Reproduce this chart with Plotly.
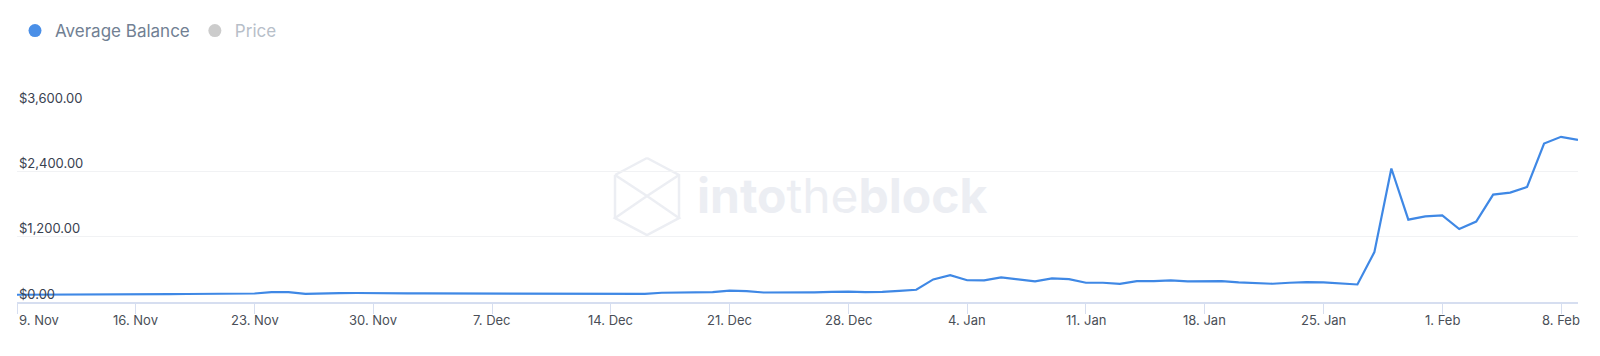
import pandas as pd
import plotly.graph_objects as go

# ---- data ----
start_date = "2020-11-09"
avg_balance = [
    133, 133, 133, 133, 135, 137, 139, 141, 143, 145, 147, 149, 151, 151,
    156, 180, 180, 151,
    162, 163, 165, 167, 165, 160, 158, 158, 160, 160, 158, 155, 152, 150, 148, 150, 150, 152, 155,
    150, 170, 172, 175, 180, 210, 200, 175, 172, 180, 178, 185, 190, 180, 185, 205, 225, 415, 493, 400,
    396, 451, 420, 378, 433, 420, 354, 354, 335, 383, 383, 396, 378, 378, 383, 359, 346, 335, 354, 365,
    359, 340, 322, 917, 2453, 1514, 1575, 1593, 1341, 1477, 1974, 2011, 2114, 2913, 3035, 2980,
]
dates = pd.date_range(start_date, periods=len(avg_balance), freq="D")

x_tick_labels = ["9. Nov", "16. Nov", "23. Nov", "30. Nov", "7. Dec", "14. Dec", "21. Dec",
                 "28. Dec", "4. Jan", "11. Jan", "18. Jan", "25. Jan", "1. Feb", "8. Feb"]
x_tick_dates = pd.date_range(start_date, periods=len(x_tick_labels), freq="7D")
y_tick_vals = [0, 1200, 2400, 3600]
y_tick_labels = ["$0.00", "$1,200.00", "$2,400.00", "$3,600.00"]

# ---- styling ----
W, H = 1600, 356
ML, MR, MT, MB = 17, 22, 106, 54
PW, PH = W - ML - MR, H - MT - MB
LINE_BLUE = "#3f88e5"
FONT = "Inter"


def px2paper(px, py):
    return (px - ML) / PW, (H - MB - py) / PH


fig = go.Figure()

fig.add_trace(go.Scatter(
    x=dates, y=avg_balance, mode="lines",
    line=dict(color=LINE_BLUE, width=2.2),
    showlegend=False, name="Average Balance",
))
# legend entries (circle symbols)
fig.add_trace(go.Scatter(x=[None], y=[None], mode="markers", name="Average Balance",
                         marker=dict(color="#4a8fe7", size=13, symbol="circle")))
fig.add_trace(go.Scatter(x=[None], y=[None], mode="markers", name="Price", visible="legendonly",
                         marker=dict(color="#9a9a9a", size=13, symbol="circle")))

annotations = []
# x tick labels as annotations (first label left-aligned like the original)
for i, (d, lab) in enumerate(zip(x_tick_dates, x_tick_labels)):
    annotations.append(dict(
        x=d, xref="x", y=px2paper(0, 320)[1], yref="paper",
        text=lab, showarrow=False, xanchor="left" if i == 0 else "center", yanchor="middle",
        font=dict(family=FONT, size=13, color="#4a4f57"),
    ))
# y tick labels, left-aligned just above their grid lines
for v, lab in zip(y_tick_vals, y_tick_labels):
    annotations.append(dict(
        x=px2paper(17.3, 0)[0], xref="paper", y=v, yref="y",
        text=lab, showarrow=False, xanchor="left", yanchor="middle", yshift=8.5,
        font=dict(family=FONT, size=13, color="#394150"),
    ))

# watermark
wx, wy = px2paper(842, 195)
annotations.append(dict(
    x=wx, y=wy, xref="paper", yref="paper", showarrow=False,
    text="<b>into</b>the<b>block</b>",
    font=dict(family=FONT, size=48, color="#eceef3"),
    xanchor="center", yanchor="middle",
))

# watermark icon (cube outline)
icon_pts = {
    "T": (647, 158), "UR": (679, 175), "LR": (679, 218),
    "B": (647, 235), "LL": (615, 218), "UL": (615, 175),
    "C": (647, 196), "MR": (679, 196), "ML": (615, 196),
}


def path_of(names):
    s = ""
    for i, n in enumerate(names):
        x, y = px2paper(*icon_pts[n])
        s += ("M" if i == 0 else "L") + f"{x:.5f},{y:.5f} "
    return s


shapes = []
for names in [
    ["T", "UR", "MR"],
    ["UL", "T"],
    ["UL", "LL"],
    ["UL", "C", "LR", "B", "LL", "C", "UR"],
    ["LR", "MR"],
]:
    shapes.append(dict(type="path", path=path_of(names), xref="paper", yref="paper",
                       line=dict(color="#eceef3", width=2.5), layer="below"))

fig.update_layout(
    width=W, height=H,
    margin=dict(l=ML, r=MR, t=MT, b=MB, pad=0, autoexpand=False),
    paper_bgcolor="white", plot_bgcolor="white",
    font=dict(family=FONT, color="#394150"),
    showlegend=True,
    legend=dict(
        orientation="h", x=15 / W, y=1 - 31 / H, xref="container", yref="container",
        xanchor="left", yanchor="middle",
        font=dict(family=FONT, size=17, color="#718093"),
        bgcolor="rgba(0,0,0,0)", itemclick=False,
    ),
    xaxis=dict(
        type="date", range=[dates[0], dates[-1]],
        tickvals=x_tick_dates, showticklabels=False,
        ticks="outside", ticklen=10, tickwidth=1, tickcolor="#d6def0",
        showgrid=False, showline=True, linecolor="#d6def0", linewidth=2,
        zeroline=False, fixedrange=True, automargin=False,
    ),
    yaxis=dict(
        range=[0, 3602], tickvals=y_tick_vals, showticklabels=False, ticks="",
        showgrid=True, gridcolor="#f1f2f4", gridwidth=1,
        zeroline=False, showline=False, fixedrange=True, automargin=False,
    ),
    annotations=annotations,
    shapes=shapes,
)

fig.write_html(
    "out.html",
    config={"displayModeBar": False, "staticPlot": True},
    post_script="document.body.style.margin='0px';document.body.style.overflow='hidden';",
)
